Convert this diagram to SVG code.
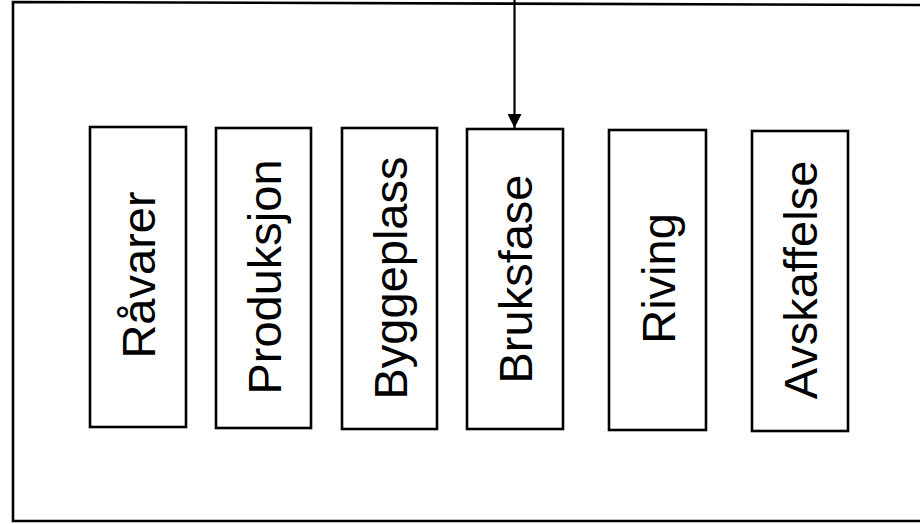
<svg xmlns="http://www.w3.org/2000/svg" width="920" height="524" viewBox="0 0 920 524">
<style>
.box{fill:#fff;stroke:#000;stroke-width:2.6}
.lbl{font-family:"Liberation Sans",Arial,sans-serif;font-size:47px;fill:#000;text-anchor:middle}
.frame{fill:none;stroke:#000;stroke-width:2.6}
</style>
<defs>
<marker id="ah" markerWidth="14" markerHeight="14" refX="14" refY="7" orient="auto" markerUnits="userSpaceOnUse">
<path d="M0,0 L14,7 L0,14 z" fill="#000"/>
</marker>
</defs>
<rect width="920" height="524" fill="#fff"/>
<path class="frame" d="M930,5 L13,2 L13,521 L930,521"/>
<g id="n1"><rect class="box" x="90" y="127" width="96" height="300"/><text class="lbl" transform="translate(155,275) rotate(-90)">Råvarer</text></g>
<g id="n2"><rect class="box" x="216" y="128" width="95" height="300"/><text class="lbl" transform="translate(280.5,277) rotate(-90)">Produksjon</text></g>
<g id="n3"><rect class="box" x="342" y="128" width="95" height="301"/><text class="lbl" transform="translate(406.5,278) rotate(-90)">Byggeplass</text></g>
<g id="n4"><rect class="box" x="467" y="129" width="96" height="300"/><text class="lbl" transform="translate(532,279) rotate(-90)">Bruksfase</text></g>
<g id="n5"><rect class="box" x="609" y="130" width="97" height="300"/><text class="lbl" transform="translate(674.5,278.5) rotate(-90)">Riving</text></g>
<g id="n6"><rect class="box" x="752" y="131" width="96" height="300"/><text class="lbl" transform="translate(817,280) rotate(-90)">Avskaffelse</text></g>
<g id="connectors">
<line x1="514.5" y1="0" x2="514.5" y2="128" stroke="#000" stroke-width="2.2" marker-end="url(#ah)"/>
</g>
</svg>
